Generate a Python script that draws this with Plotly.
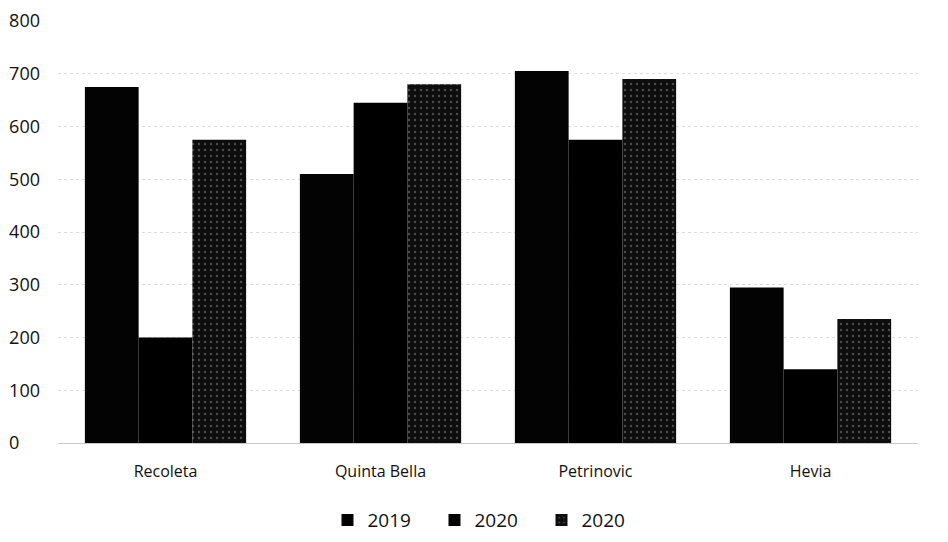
import plotly.graph_objects as go

categories = ['Recoleta', 'Quinta Bella', 'Petrinovic', 'Hevia']
series_names = ['2019', '2020', '2020']
vals_2019 = [675, 510, 705, 295]
vals_2020a = [200, 645, 575, 140]
vals_2020b = [575, 680, 690, 235]
y_ticks = [0, 100, 200, 300, 400, 500, 600, 700, 800]
# labels in the original sit left-aligned, pad the short one with figure spaces
y_ticktext = [str(v).ljust(3, '\u2007') for v in y_ticks]

fig = go.Figure()
fig.add_trace(go.Bar(x=categories, y=vals_2019, name=series_names[0],
                     marker=dict(color='#030303', line=dict(width=0))))
fig.add_trace(go.Bar(x=categories, y=vals_2020a, name=series_names[1],
                     marker=dict(color='#000000', line=dict(width=0))))
fig.add_trace(go.Bar(x=categories, y=vals_2020b, name=series_names[2],
                     marker=dict(color='#0d0d0d', line=dict(width=0),
                                 pattern=dict(shape='.', fgcolor='#8a8a8a',
                                              bgcolor='#0d0d0d', size=6, solidity=0.12))))

# page body has an 8px offset, margins are set to compensate
fig.update_layout(
    width=948, height=542,
    barmode='group', bargap=0.25, bargroupgap=0,
    margin=dict(l=50, r=38, t=13, b=107, autoexpand=False),
    paper_bgcolor='white', plot_bgcolor='white',
    font=dict(family='Open Sans', size=16, color='#111111'),
    showlegend=True,
    legend=dict(orientation='h', x=0.5, xanchor='center', y=-0.183, yanchor='middle',
                font=dict(size=19), traceorder='normal',
                entrywidth=62, entrywidthmode='pixels'),
)
fig.update_xaxes(showgrid=False, showline=False, ticks='', automargin=False,
                 ticklabelstandoff=17, tickfont=dict(size=16))
fig.update_yaxes(range=[0, 800], tickvals=y_ticks, ticktext=y_ticktext,
                 showgrid=True, gridcolor='#dcdcdc',
                 griddash='dot', gridwidth=1, zeroline=True, zerolinecolor='#c8c8c8',
                 zerolinewidth=1, showline=False, ticks='', automargin=False,
                 ticklabeloverflow='allow',
                 ticklabelstandoff=17, tickfont=dict(size=18))

fig.write_html("out.html")
